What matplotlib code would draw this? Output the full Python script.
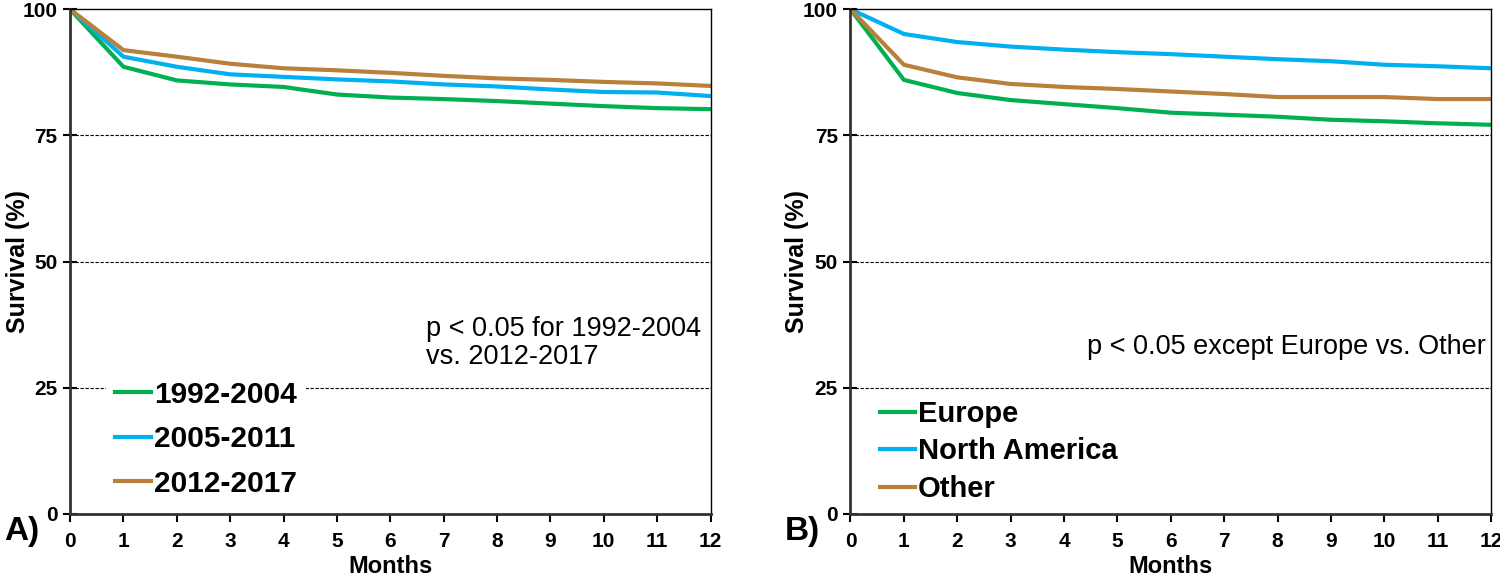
import matplotlib
matplotlib.use('Agg')
import matplotlib.pyplot as plt

plt.rcParams['font.family'] = ['Liberation Sans', 'DejaVu Sans']

months = list(range(13))
month_ticks = list(range(13))
surv_ticks = [0, 25, 50, 75, 100]

# panel A - by era
era_labels = ['1992-2004', '2005-2011', '2012-2017']
era_1992 = [100, 88.6, 85.9, 85.1, 84.6, 83.1, 82.5, 82.2, 81.8, 81.3, 80.8, 80.4, 80.2]
era_2005 = [100, 90.6, 88.6, 87.1, 86.6, 86.1, 85.7, 85.1, 84.7, 84.1, 83.6, 83.5, 82.8]
era_2012 = [100, 91.9, 90.6, 89.2, 88.3, 87.9, 87.4, 86.8, 86.3, 86.0, 85.6, 85.3, 84.8]

# panel B - by region
region_labels = ['Europe', 'North America', 'Other']
europe = [100, 86.0, 83.4, 82.0, 81.2, 80.4, 79.5, 79.1, 78.7, 78.1, 77.8, 77.4, 77.1]
north_america = [100, 95.1, 93.5, 92.6, 92.0, 91.5, 91.1, 90.6, 90.1, 89.7, 89.0, 88.7, 88.3]
other = [100, 89.0, 86.5, 85.2, 84.6, 84.2, 83.7, 83.2, 82.6, 82.6, 82.6, 82.2, 82.2]

colors = ['#00B050', '#00B0F0', '#B8803A']

fig = plt.figure(figsize=(15, 5.78), dpi=100)
axA = fig.add_axes([0.0467, 0.111, 0.427, 0.873])
axB = fig.add_axes([0.567, 0.111, 0.427, 0.873])


def style_axis(ax, ylab_x):
    ax.set_xlim(0, 12)
    ax.set_ylim(0, 100)
    ax.tick_params(axis='y', direction='inout', length=10, width=1.5, pad=4, labelsize=15)
    ax.tick_params(axis='x', direction='out', length=6, width=1.5, pad=7, labelsize=15)
    ax.set_xticks(month_ticks)
    ax.set_yticks(surv_ticks)
    for lab in ax.get_xticklabels() + ax.get_yticklabels():
        lab.set_fontweight('bold')
    for y in [25, 50, 75]:
        ax.axhline(y, color='black', lw=0.8, ls=(0, (3, 1.5)), zorder=0)
    for s in ax.spines.values():
        s.set_color('black')
        s.set_linewidth(1.0)
    ax.spines['left'].set_color('#333333')
    ax.spines['left'].set_linewidth(2.0)
    ax.spines['bottom'].set_color('#333333')
    ax.spines['bottom'].set_linewidth(2.0)
    ax.set_xlabel('Months', fontsize=17, fontweight='bold', labelpad=3)
    ax.set_ylabel('Survival (%)', fontsize=18, fontweight='bold')
    ax.yaxis.set_label_coords(ylab_x, 0.5)


# A
for vals, c, lab in zip([era_1992, era_2005, era_2012], colors, era_labels):
    axA.plot(months, vals, color=c, lw=3, label=lab)
style_axis(axA, -0.062)
legA = axA.legend(loc='lower left', bbox_to_anchor=(0.033, -0.015),
                  prop={'weight': 'bold', 'size': 21.5}, frameon=True,
                  handlelength=1.2, handletextpad=0.1, labelspacing=0.55,
                  borderpad=0.3)
legA.get_frame().set_edgecolor('none')
legA.get_frame().set_facecolor('white')
legA.get_frame().set_alpha(1)
axA.text(0.555, 0.338, 'p < 0.05 for 1992-2004\nvs. 2012-2017', transform=axA.transAxes,
         fontsize=19.5, ha='left', va='center', linespacing=1.1)
fig.text(0.003, 0.08, 'A)', fontsize=24, fontweight='bold', ha='left', va='center')

# B
for vals, c, lab in zip([europe, north_america, other], colors, region_labels):
    axB.plot(months, vals, color=c, lw=3, label=lab)
style_axis(axB, -0.065)
legB = axB.legend(loc='lower left', bbox_to_anchor=(0.01, -0.025),
                  prop={'weight': 'bold', 'size': 21}, frameon=False,
                  handlelength=1.2, handletextpad=0.1, labelspacing=0.33,
                  borderpad=0.3)
axB.text(0.37, 0.33, 'p < 0.05 except Europe vs. Other', transform=axB.transAxes,
         fontsize=19.5, ha='left', va='center')
fig.text(0.523, 0.08, 'B)', fontsize=24, fontweight='bold', ha='left', va='center')

fig.savefig('out.png', dpi=100)
